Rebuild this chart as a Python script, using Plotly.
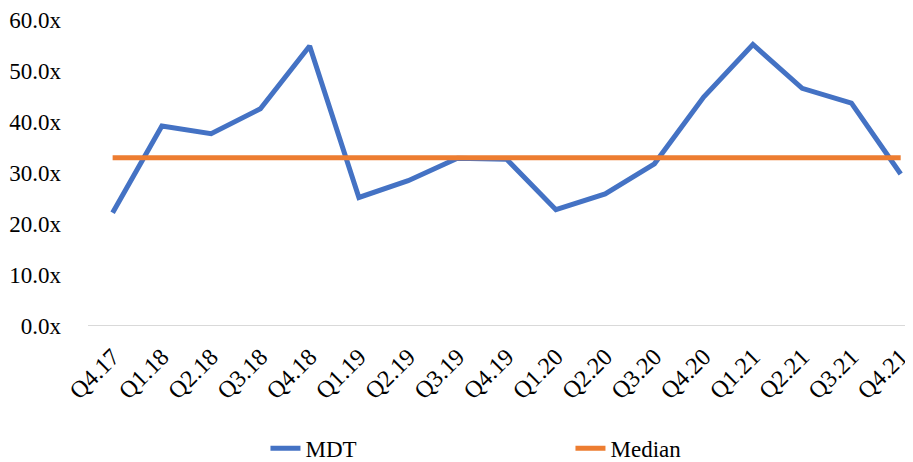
import plotly.graph_objects as go

quarters = ["Q4.17", "Q1.18", "Q2.18", "Q3.18", "Q4.18", "Q1.19", "Q2.19", "Q3.19", "Q4.19",
            "Q1.20", "Q2.20", "Q3.20", "Q4.20", "Q1.21", "Q2.21", "Q3.21", "Q4.21"]
mdt = [22.2, 39.2, 37.7, 42.6, 54.9, 25.2, 28.5, 32.9, 32.7,
       22.8, 25.9, 31.8, 44.9, 55.2, 46.6, 43.7, 29.8]
median = [33.0] * len(quarters)

tick_vals = [0, 10, 20, 30, 40, 50, 60]
tick_text = ["0.0x", "10.0x", "20.0x", "30.0x", "40.0x", "50.0x", "60.0x"]

FONT = "Liberation Serif"

fig = go.Figure()
fig.add_trace(go.Scatter(x=quarters, y=mdt, mode="lines", name="MDT",
                         line=dict(color="#4472C4", width=5)))
fig.add_trace(go.Scatter(x=quarters, y=median, mode="lines", name="Median",
                         line=dict(color="#ED7D31", width=5)))

# page body has an 8px default margin, so the figure is 905x454
fig.update_layout(
    width=905, height=454,
    margin=dict(l=80, r=0, t=12, b=136),
    paper_bgcolor="white", plot_bgcolor="white",
    font=dict(family=FONT, size=23, color="#000000"),
    showlegend=True,
    legend=dict(orientation="h", xref="container", x=0.2845, xanchor="left",
                yref="container", y=0.03, yanchor="middle",
                entrywidth=260, entrywidthmode="pixels",
                font=dict(family=FONT, size=23, color="#000000")),
    xaxis=dict(type="category", range=[-0.5, 16.25], tickangle=-45,
               showgrid=False, showline=False, ticks="", zeroline=False,
               automargin=False, ticklabelstandoff=11,
               ticklabeloverflow="allow",
               tickfont=dict(family=FONT, size=24)),
    yaxis=dict(range=[0, 60], tickvals=tick_vals, ticktext=tick_text,
               showgrid=False, zeroline=False, showline=False, ticks="",
               automargin=False, ticklabelstandoff=26,
               ticklabeloverflow="allow",
               tickfont=dict(family=FONT, size=23)),
)
fig.add_hline(y=0, line=dict(color="#D9D9D9", width=2), layer="below")

fig.write_html("out.html")
